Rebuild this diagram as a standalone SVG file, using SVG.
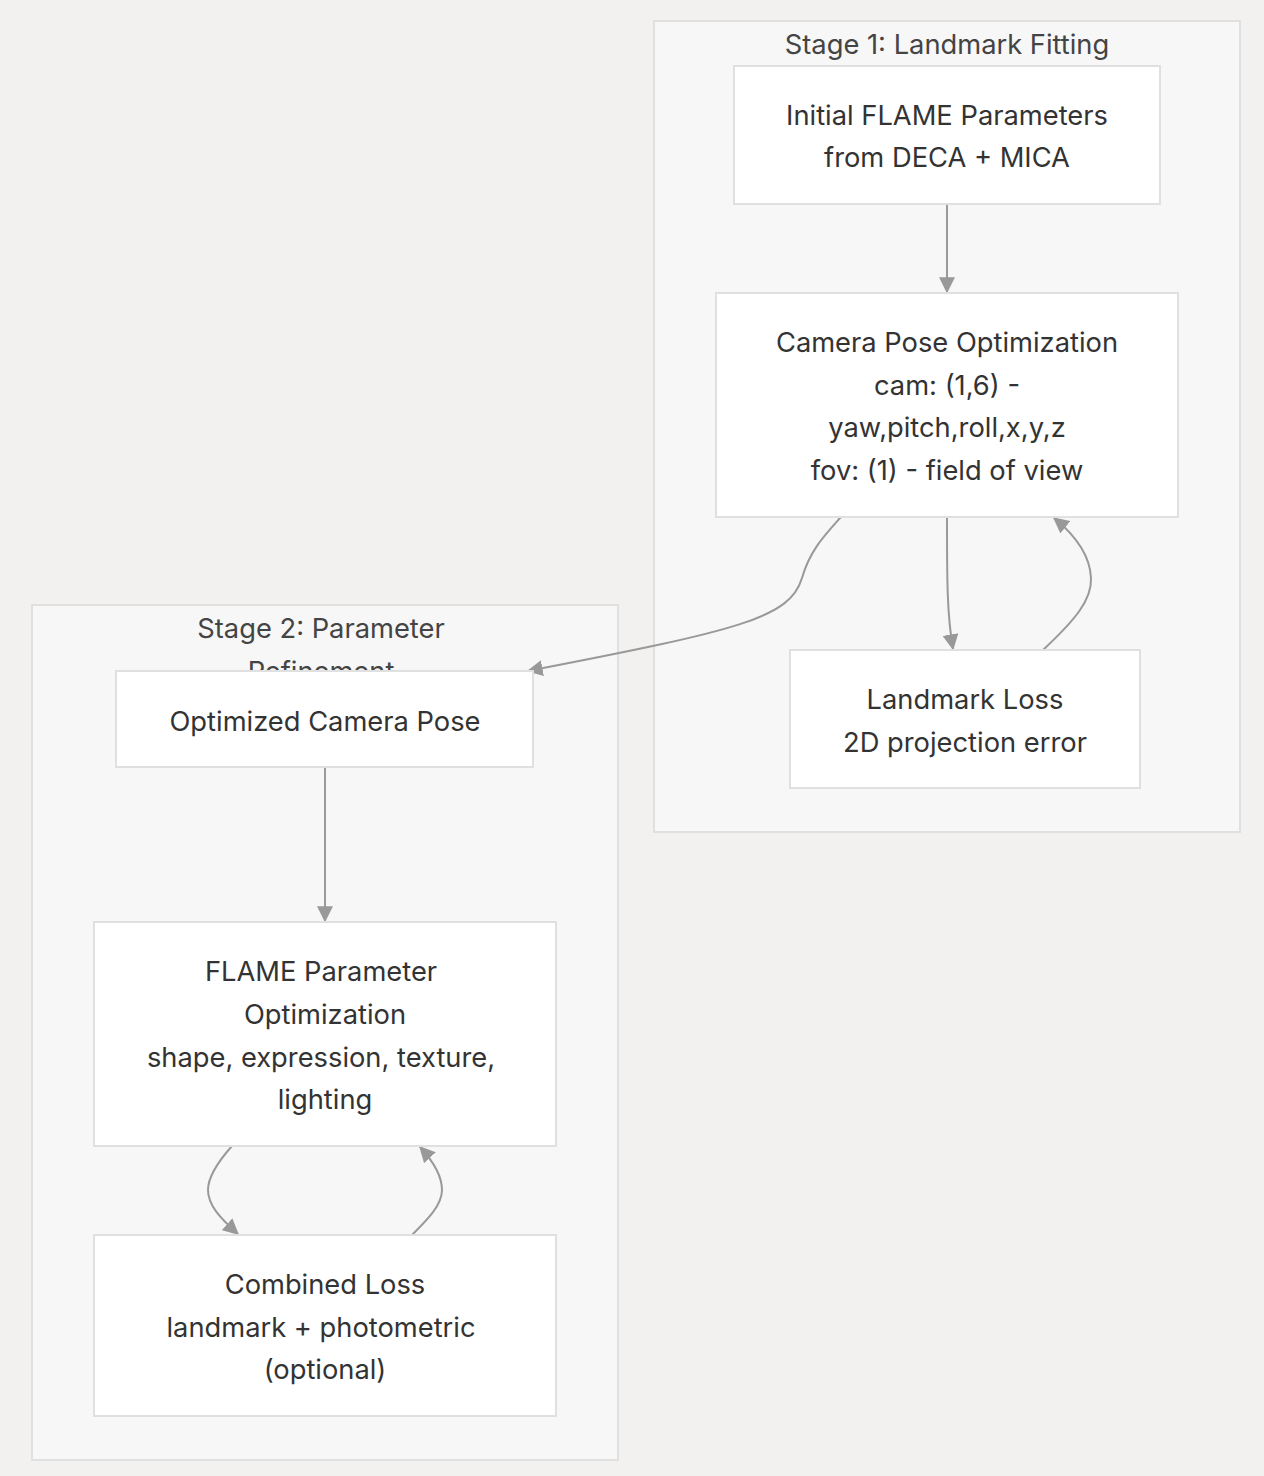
<svg xmlns="http://www.w3.org/2000/svg" width="1264" height="1476" viewBox="0 0 1264 1476">
<style>
.bg{fill:#f2f1ef}
.cluster{fill:#f7f7f7;stroke:#e0e0e0;stroke-width:2}
.node{fill:#ffffff;stroke:#e0e0e0;stroke-width:2}
.t{font-family:Inter,"Noto Sans","Liberation Sans",sans-serif;font-size:27.3px;fill:#333333;text-anchor:middle}
.ct{font-family:Inter,"Noto Sans","Liberation Sans",sans-serif;font-size:27.3px;fill:#444444;text-anchor:middle}
.edge{fill:none;stroke:#999999;stroke-width:2}
</style>
<defs>
<marker id="arrow" viewBox="0 0 12 12" refX="11" refY="6" markerWidth="16" markerHeight="16" markerUnits="userSpaceOnUse" orient="auto">
<path d="M0,0 L12,6 L0,12 Z" fill="#999999"/>
</marker>
</defs>
<rect class="bg" x="0" y="0" width="1264" height="1476"/>
<g id="stage1">
<rect class="cluster" x="654" y="21" width="586" height="811"/>
<text class="ct" x="947" y="54">Stage 1: Landmark Fitting</text>
</g>
<g id="stage2">
<rect class="cluster" x="32" y="605" width="586" height="855"/>
<text class="ct" x="321" y="638">Stage 2: Parameter</text>
<text class="ct" x="321" y="681">Refinement</text>
</g>
<g id="edges">
<path class="edge" d="M947,204 L947,292" marker-end="url(#arrow)"/>
<path class="edge" d="M947,517 C947,580 947,615 953,649" marker-end="url(#arrow)"/>
<path class="edge" d="M1043,650 C1075,620 1092,600 1091,578 C1090,555 1075,535 1054,518" marker-end="url(#arrow)"/>
<path class="edge" d="M841,517 C825,535 810,550 802,578 C790,618 740,630 528,671" marker-end="url(#arrow)"/>
<path class="edge" d="M325,767 L325,921" marker-end="url(#arrow)"/>
<path class="edge" d="M232,1146 C215,1165 208,1178 208,1190 C208,1205 220,1218 238,1234" marker-end="url(#arrow)"/>
<path class="edge" d="M412,1235 C428,1219 442,1205 442,1190 C442,1175 432,1160 420,1147" marker-end="url(#arrow)"/>
</g>
<g id="initial">
<rect class="node" x="734" y="66" width="426" height="138"/>
<text class="t" x="947" y="125">Initial FLAME Parameters</text>
<text class="t" x="947" y="167">from DECA + MICA</text>
</g>
<g id="camera">
<rect class="node" x="716" y="293" width="462" height="224"/>
<text class="t" x="947" y="352">Camera Pose Optimization</text>
<text class="t" x="947" y="395">cam: (1,6) -</text>
<text class="t" x="947" y="437">yaw,pitch,roll,x,y,z</text>
<text class="t" x="947" y="480">fov: (1) - field of view</text>
</g>
<g id="landmark">
<rect class="node" x="790" y="650" width="350" height="138"/>
<text class="t" x="965" y="709">Landmark Loss</text>
<text class="t" x="965" y="752">2D projection error</text>
</g>
<g id="optcam">
<rect class="node" x="116" y="671" width="417" height="96"/>
<text class="t" x="325" y="731">Optimized Camera Pose</text>
</g>
<g id="flame">
<rect class="node" x="94" y="922" width="462" height="224"/>
<text class="t" x="321" y="981">FLAME Parameter</text>
<text class="t" x="325" y="1024">Optimization</text>
<text class="t" x="321" y="1067">shape, expression, texture,</text>
<text class="t" x="325" y="1109">lighting</text>
</g>
<g id="combined">
<rect class="node" x="94" y="1235" width="462" height="181"/>
<text class="t" x="325" y="1294">Combined Loss</text>
<text class="t" x="321" y="1337">landmark + photometric</text>
<text class="t" x="325" y="1379">(optional)</text>
</g>
</svg>
